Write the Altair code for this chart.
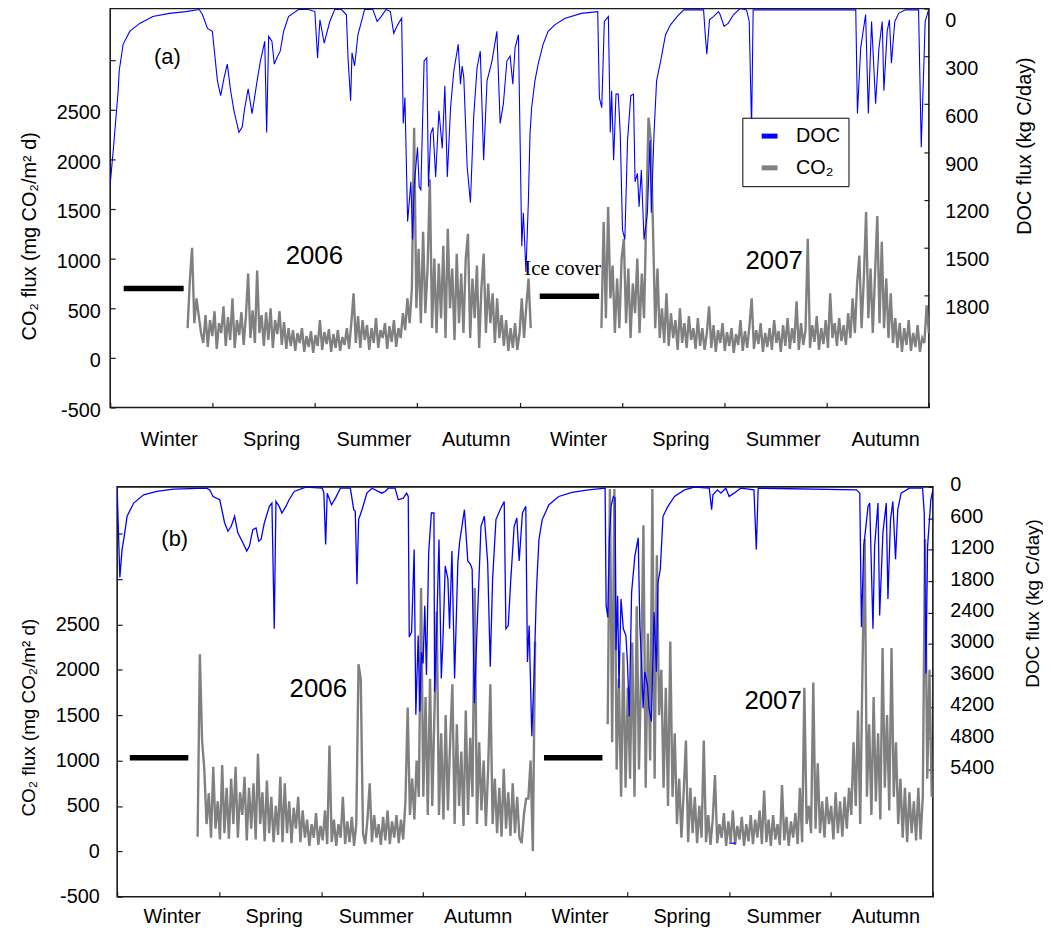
import altair as alt
import pandas as pd

FONT = "Liberation Sans"
SERIF = "Liberation Serif"

SEASONS = ["Winter", "Spring", "Summer", "Autumn", "Winter", "Spring", "Summer", "Autumn"]
SEASON_TICKS = [0, 91.25, 182.5, 273.75, 365, 456.25, 547.5, 638.75, 730]
SERIES = ["DOC", "CO₂"]
SERIES_COLORS = ["#0000ff", "#808080"]
CO2_STEP = 2  # days between CO2 readings

# ---------------- panel (a) ----------------
A_CO2_1_START = 69
A_CO2_1 = [300, 780, 1110, 350, 600, 420, 250,
           150, 430, 110, 380, 220, 470, 90, 350, 250, 520, 120, 410, 180, 600, 100, 380, 230, 460, 130, 420, 850,
           200, 480, 150, 880, 250, 430,
           120, 460, 180, 500, 100, 380, 240, 470, 130, 360, 90, 300,
           120, 280, 70, 250, 150, 300, 60, 220, 110, 270, 50, 230, 120, 380, 80, 260, 140, 290, 60, 240, 100, 280,
           70, 210, 130, 300, 90, 350,
           650, 150, 420, 100, 380, 180, 330, 80, 300, 150, 400, 100, 280, 200, 350, 90, 320, 160, 380, 110, 300, 200,
           450, 280, 600, 350, 700,
           2320,
           500, 1100, 350, 1270, 450, 900, 1800, 300, 1000,
           250, 950, 400, 1130, 200, 1300, 500, 900, 180, 1050, 350, 850, 250, 1000,
           1250, 200, 800, 400, 930, 100, 700, 1050, 250, 750, 350, 650, 150, 600, 200,
           430, 120, 380, 70, 300, 100, 350, 80, 250,
           600, 200, 520, 800, 300]
A_CO2_2_START = 438
A_CO2_2 = [300, 1370, 400, 1520, 600, 930, 250,
           800, 300, 1000, 1200, 350, 900, 200, 750, 450, 1000, 250, 850, 400, 1430, 2420, 2200, 1300, 300, 900, 200,
           500, 150, 650, 120, 450, 200, 380, 80, 500, 150, 350, 100, 420, 180, 300, 90, 400, 120,
           300, 80, 250, 520, 100, 330, 60, 280, 150, 350, 70, 260, 120, 300, 50, 240, 130, 380, 70, 270,
           100, 320, 600, 90, 280, 140, 350, 60, 250, 110, 300, 80, 380, 150, 270, 60, 330, 120, 400, 90,
           300, 150, 570, 80, 350, 130, 280, 1200, 100, 330, 160, 420, 80, 300, 140, 380, 100, 650, 200, 350,
           120, 400, 170, 330, 130,
           450, 200, 600, 250, 750, 1030, 300, 800, 1470, 400, 900, 250, 850, 1430, 350, 1170, 300, 800, 200, 650, 150,
           400, 100, 350, 60, 300, 130, 380, 70, 250, 110, 330, 60, 200, 150, 530, 250]
A_DOC = [(0, 1100), (2.7, 888), (7.1, 515), (8, 391), (11.5, 224), (17.4, 143), (26.3, 93), (38, 50), (52.8, 30),
         (67.5, 19), (79.4, 6), (82.3, 39), (86.7, 124), (91.1, 143), (95.6, 453), (98.5, 546), (101.5, 435),
         (104.4, 348), (107.4, 515), (110.3, 640), (114.8, 776), (117.7, 743), (120, 621), (123, 503), (126.5, 658),
         (131, 453), (133.9, 329), (137.8, 205), (139.5, 776), (141.3, 174), (144.2, 205), (146.3, 348), (148.6, 308),
         (151.6, 267), (154.6, 143), (159, 50), (167.8, 6), (176.7, 6), (182.5, 19), (184.9, 310), (187, 70),
         (190.8, 217), (195.8, 81), (200.2, 6), (206.2, 6), (210.6, 39), (212.1, 317), (214.4, 578), (215.6, 277),
         (217.9, 360), (220.9, 164), (226.8, 6), (234.2, 6), (238, 81), (241.6, 50), (246, 6), (249.8, 19),
         (252.8, 155), (256.3, 102), (259.9, 60), (261.3, 720), (262.8, 557), (265.2, 1335), (268.1, 1086),
         (269.6, 1447), (271, 1117), (274, 869), (275.5, 1117), (277, 1136), (279.9, 329), (282.3, 308),
         (283.8, 1117), (285.8, 785), (287.8, 745), (290.2, 1055), (293.1, 640), (296.1, 876), (298.4, 484),
         (300.6, 1055), (303.5, 620), (306.4, 391), (310.3, 224), (312.3, 474), (313.8, 360), (315.3, 433),
         (318.3, 993), (321.2, 1217), (324.1, 680), (327.1, 371), (330, 267), (333, 950), (336, 453), (340.4, 329),
         (344.8, 143), (347.7, 720), (350.6, 596), (353.7, 329), (356.6, 298), (359, 474), (361, 246), (364, 164),
         (367, 1490), (368.4, 1280), (370.7, 1650), (372.9, 1200), (374.3, 790), (375.8, 620), (378.7, 453),
         (381.6, 348), (386, 224), (390.5, 143), (396.4, 102), (405.2, 62), (420, 30), (434.7, 19), (436.2, 559),
         (438.3, 621), (440.6, 81), (444.2, 50), (445.9, 776), (447.1, 515), (448.9, 950), (451, 536), (453, 536),
         (454.8, 785), (456.8, 1385), (458.9, 1447), (461.3, 826), (464.2, 546), (466.6, 536), (468, 1086),
         (470.1, 1033), (471.6, 1242), (473.6, 1012), (476, 1447), (479, 1280), (481.3, 826), (482.5, 1280),
         (484.9, 785), (487.2, 453), (490.8, 329), (495.2, 164), (499.6, 102), (505.5, 50), (511.4, 8), (529.1, 8),
         (530.6, 164), (532, 286), (534.4, 70), (537.9, 50), (542.4, 19), (543.9, 39), (547.4, 112), (551.2, 91),
         (555.7, 39), (561.6, 0), (567.4, 8), (569.8, 81), (571.9, 752), (573.3, 8), (664.8, 8), (666.3, 658),
         (669.2, 246), (673.6, 37), (676, 658), (678.9, 81), (682.5, 596), (685.5, 246), (688.4, 81), (689.9, 515),
         (692.8, 143), (694.8, 70), (696.6, 342), (699.6, 81), (703.1, 30), (709, 8), (720.8, 8), (723.2, 869),
         (726.7, 81), (729.7, 8)]
A_ICE = [(12, 65.5, 700), (383, 436, 620)]
A_YEARS = [("2006", 182, 1030), ("2007", 592, 980)]
A_TAG = [("(a)", 51, 3030)]
A_ICE_TEXT = [("Ice cover", 403.5, 900)]

# ---------------- panel (b) ----------------
B_CO2_1_START = 72
B_CO2_1 = [160, 2170, 1220, 900, 300, 640, 150, 930, 250, 550,
           130, 950, 200, 700, 140, 800, 300, 930, 150, 650, 400, 820, 120, 700, 250, 750, 130, 1075, 300, 650,
           110, 780, 200, 600,
           100, 500, 180, 820, 100, 750, 200, 550, 90, 480, 250, 600, 100, 450, 150,
           350, 60, 300, 150, 420, 70, 280, 120, 450, 80, 1166, 100, 350, 60, 300, 150, 600, 80, 330, 100, 380, 60,
           300, 2060, 1900, 200,
           80, 350, 750, 100, 400, 150, 300, 70, 380, 120, 450, 80, 330, 150, 400, 90, 350, 130,
           550, 1585, 400, 800, 350, 1000, 600,
           2900, 600, 1700, 400, 1900, 500, 1550, 2640,
           400, 1300, 350, 1500, 450, 1200, 1840, 300, 1400, 500, 1100, 280, 1550, 400, 1250, 600, 2900,
           300, 1200, 450, 1000, 280, 900, 1840,
           300, 800, 200, 700, 160, 910, 250, 650, 170, 750, 200, 600, 150,
           91, 400, 580, 580, 1000, 0, 2310]
B_CO2_2_START = 439
B_CO2_2 = [1400, 3990, 1200, 3990, 900, 1900, 600, 2190, 700, 1800,
           800, 2300, 600, 2700, 900, 2000, 3590, 700, 2400, 1000, 3990, 800, 3260, 1500, 2000,
           700, 1800, 500, 2310, 600, 1300,
           300, 800, 150, 650, 1220, 100, 700, 200, 600, 90, 500, 150,
           1220, 100, 400, 70, 350, 840, 90, 300, 150, 420, 60, 330, 100, 450, 70, 280, 130, 380, 60, 300, 110,
           400, 80, 350, 150, 450,
           80, 670, 100, 350, 60, 400, 130, 300, 70, 730, 120, 380, 60, 330, 150, 420, 80, 700, 100,
           1800, 300, 500, 200, 1860,
           250, 970, 200, 550, 150, 600, 300, 500, 130, 650, 200, 550, 160, 600, 250, 700,
           400, 1200, 500, 1550, 300, 2000, 3440, 600, 1400, 400, 1700, 550, 1300, 350, 2240, 700, 1500, 450, 2240,
           600, 1200, 300,
           800, 150, 700, 100, 650, 200, 550, 120, 700, 130, 600,
           3440, 800, 2000, 600]
B_DOC = [(0, 25), (2.4, 1731), (4.4, 1194), (5.9, 1004), (8.9, 562), (14.8, 309), (23.7, 152), (35.5, 88),
         (50.3, 44), (80, 25), (82.9, 57), (85.8, 183), (91.8, 246), (96.2, 689), (99.2, 847), (102.1, 752),
         (105.1, 562), (108, 878), (112.5, 1067), (116, 1225), (118.4, 1131), (121.4, 815), (124.3, 783),
         (126.7, 1036), (128.8, 1004), (131.7, 689), (136.2, 373), (138.5, 309), (140.6, 2710), (142.1, 278),
         (145, 373), (147.4, 499), (151, 373), (153.9, 246), (158.4, 88), (168.8, 6), (183.6, 25), (185, 120),
         (186.6, 1099), (188, 120), (191.8, 341), (195.4, 215), (199.8, 25), (208.7, 25), (211.7, 436), (213.1, 467),
         (214.6, 1857), (216.1, 625), (219.1, 436), (223.5, 120), (228, 25), (236.8, 120), (239.8, 88), (242.8, 25),
         (248.7, 25), (251.6, 246), (256.1, 215), (259, 120), (260.5, 183), (261.4, 2868), (263.5, 2773),
         (265.8, 1194), (267.3, 4352), (269.4, 2836), (270.8, 4289), (272.3, 3153), (273.8, 3373), (275.3, 2268),
         (276.8, 3594), (278.8, 1257), (281.2, 499), (283.5, 499), (284.1, 3910), (285.6, 3026), (288, 1004),
         (290.1, 3658), (291.6, 2899), (293.6, 1510), (296, 1762), (297.5, 2710), (299.6, 1225), (302, 3658),
         (304.9, 1446), (306.4, 1067), (310.8, 436), (313.8, 1415), (316.2, 1478), (317.7, 1573), (319.7, 4131),
         (322.1, 2710), (325.6, 752), (328.6, 562), (331.6, 1446), (333.9, 3436), (336, 1762), (339, 625),
         (343.4, 404), (346.4, 278), (347.9, 2710), (350, 2647), (352.3, 1762), (355.3, 752), (357.7, 594),
         (359.8, 1415), (362.7, 499), (365.7, 373), (367.2, 3342), (368.7, 2647), (371.1, 4763), (373, 3658),
         (375.1, 2078), (376, 1636), (377.5, 1004), (380.4, 625), (386.4, 341), (395.2, 183), (407.1, 107),
         (421.9, 57), (436.7, 25), (437.6, 2268), (439.1, 2489), (440.5, 1004), (442, 373), (444.1, 183),
         (445.6, 215), (446.4, 3121), (447.9, 2078), (449.1, 3847), (450.9, 2141), (453, 2710), (455.3, 2836),
         (456.8, 3405), (458.3, 4384), (460.4, 2015), (463.3, 1320), (466.3, 973), (467.8, 2647), (469.2, 3310),
         (470.7, 4226), (472.2, 3531), (474.6, 3784), (476, 4226), (478.1, 4479), (480.5, 2394), (482.6, 3531),
         (484, 1826), (486.1, 1573), (488.5, 562), (492.9, 373), (498.8, 183), (507.7, 57), (516.6, 6), (529.9, 25),
         (532, 436), (533.2, 152), (537.3, 57), (540.3, 120), (544.7, 25), (547.7, 183), (552.1, 120), (558, 25),
         (569.9, 57), (572, 1194), (573.7, 25), (661.6, 57), (664.6, 120), (666.1, 2678), (668.2, 1131), (672, 373),
         (673.5, 309), (676.4, 2710), (677.9, 1131), (680.9, 309), (682.4, 2457), (685.3, 878), (688.3, 309),
         (689.8, 2141), (692.1, 625), (694.2, 278), (696.6, 1383), (698.6, 436), (701.6, 120), (709, 25),
         (720.8, 25), (722.3, 499), (723.8, 3563), (725.3, 1131), (728.2, 246), (730, 57)]
B_DOC_BLIP = [(547.7, 6800), (553.6, 6800)]
B_ICE = [(11.3, 63.7, 1030), (382, 434.3, 1030)]
B_YEARS = [("2006", 180, 1782), ("2007", 587, 1650)]
B_TAG = [("(b)", 51.5, 3443)]


def co2_frame(parts):
    frames = []
    for k, (start, vals) in enumerate(parts):
        frames.append(pd.DataFrame({"day": [start + CO2_STEP * i for i in range(len(vals))],
                                    "value": vals, "series": "CO₂", "seg": f"c{k}"}))
    return pd.concat(frames, ignore_index=True)


def doc_frame(parts):
    frames = []
    for k, pts in enumerate(parts):
        frames.append(pd.DataFrame({"day": [p[0] for p in pts], "value": [p[1] for p in pts],
                                    "series": "DOC", "seg": f"d{k}"}))
    return pd.concat(frames, ignore_index=True)


def text_frame(items):
    return pd.DataFrame({"label": [t[0] for t in items], "day": [t[1] for t in items],
                         "value": [t[2] for t in items]})


LABEL_EXPR = "[" + ",".join("'%s'" % s for s in SEASONS + [""]) + "][round(datum.value / 91.25)]"


def make_panel(cfg):
    x_axis = alt.Axis(values=SEASON_TICKS, labelExpr=LABEL_EXPR, labelOffset=cfg["xlab_off"],
                      labelPadding=cfg["xlab_pad"], offset=-5, tickSize=5, labelOverlap=False,
                      labelBound=False, labelFlush=False, labelAngle=0, labelFontSize=20, title=None)
    X = alt.X("day:Q", scale=alt.Scale(domain=[0, 730], nice=False, zero=False), axis=x_axis)
    left_axis = alt.Axis(values=cfg["co2_ticks"],
                         labelExpr="datum.value > %d ? '' : '' + datum.value" % cfg["co2_label_max"],
                         offset=-5, tickSize=5, labelPadding=cfg["ylab_pad"], labelOffset=cfg["ylab_off"],
                         labelFontSize=20, title="CO₂ flux (mg CO₂/m² d)", titleFontSize=cfg["title_size"],
                         titleAngle=270, titleBaseline="middle", titleAlign="center",
                         titleX=cfg["ltitle_x"], titleY=cfg["ltitle_y"])
    Y = alt.Y("value:Q", scale=alt.Scale(domain=cfg["co2_domain"], nice=False, zero=False), axis=left_axis)
    color = alt.Color("series:N", scale=alt.Scale(domain=SERIES, range=SERIES_COLORS), legend=cfg["legend"])

    co2_line = alt.Chart(cfg["co2"]).mark_line(strokeWidth=2.4, clip=True).encode(
        x=X, y=Y, color=color, detail="seg:N")
    ice = alt.Chart(cfg["ice"]).mark_rule(strokeWidth=5.5, color="black").encode(
        x=X, x2=alt.X2("day_end:Q"), y=Y)
    layers = [
        alt.Chart(text_frame(cfg["tag"])).mark_text(font=FONT, fontSize=22, color="black").encode(
            x=X, y=Y, text="label:N"),
        alt.Chart(text_frame(cfg["years"])).mark_text(font=FONT, fontSize=26, color="black").encode(
            x=X, y=Y, text="label:N"),
    ]
    if cfg.get("ice_text"):
        layers.append(alt.Chart(text_frame(cfg["ice_text"])).mark_text(font=SERIF, fontSize=21, color="black").encode(
            x=X, y=Y, text="label:N"))
    layers += [ice, co2_line]
    left = alt.layer(*layers)

    right_axis = alt.Axis(values=cfg["doc_ticks"], format="d", orient="right", offset=-5, tickSize=5,
                          labelPadding=cfg["rlab_pad"], labelOffset=cfg["rlab_off"], labelFontSize=20,
                          title="DOC flux (kg C/day)", titleFontSize=cfg["title_size"], titleAngle=270,
                          titleBaseline="middle", titleAlign="center",
                          titleX=cfg["rtitle_x"], titleY=cfg["rtitle_y"])
    doc_line = alt.Chart(cfg["doc"]).mark_line(strokeWidth=cfg["doc_width"], clip=True).encode(
        x=X,
        y=alt.Y("value:Q", scale=alt.Scale(domain=cfg["doc_domain"], reverse=True, nice=False, zero=False),
                axis=right_axis),
        color=color, detail="seg:N")
    panel = alt.layer(left, doc_line).resolve_scale(y="independent").properties(width=cfg["w"], height=cfg["h"])
    # an invisible 1px anchor on the left lets each panel keep its own left margin
    anchor = alt.Chart(pd.DataFrame({"v": [0]})).mark_point(opacity=0).properties(
        width=1, height=1, view=alt.ViewBackground(stroke="transparent"))
    return alt.hconcat(anchor, panel, spacing=0).resolve_scale(color="independent").resolve_legend(
        color="independent")


legend_a = alt.Legend(title=None, orient="none", legendX=637, legendY=110, direction="vertical",
                      padding=8, strokeColor="black", fillColor="white", symbolType="stroke",
                      symbolStrokeWidth=5, symbolSize=256, labelFont=FONT, labelFontSize=20,
                      labelColor="black", labelOffset=16, symbolOffset=9, rowPadding=11,
                      labelExpr="datum.label + '\u00a0\u00a0'")

panel_a = make_panel(dict(
    co2=co2_frame([(A_CO2_1_START, A_CO2_1), (A_CO2_2_START, A_CO2_2)]),
    doc=doc_frame([A_DOC]),
    ice=pd.DataFrame({"day": [t[0] for t in A_ICE], "day_end": [t[1] for t in A_ICE], "value": [t[2] for t in A_ICE]}),
    tag=A_TAG, years=A_YEARS, ice_text=A_ICE_TEXT,
    co2_domain=[-500, 3520], co2_ticks=[-500, 0, 500, 1000, 1500, 2000, 2500, 3000], co2_label_max=2500,
    doc_domain=[0, 2500], doc_ticks=[0, 300, 600, 900, 1200, 1500, 1800],
    xlab_off=59, xlab_pad=22, ylab_pad=10, ylab_off=3, rlab_pad=16, rlab_off=12,
    ltitle_x=-86, ltitle_y=229, rtitle_x=101, rtitle_y=138, title_size=20,
    doc_width=1.1, legend=legend_a, w=825, h=402))

panel_b = make_panel(dict(
    co2=co2_frame([(B_CO2_1_START, B_CO2_1), (B_CO2_2_START, B_CO2_2)]),
    doc=doc_frame([B_DOC, B_DOC_BLIP]),
    ice=pd.DataFrame({"day": [t[0] for t in B_ICE], "day_end": [t[1] for t in B_ICE], "value": [t[2] for t in B_ICE]}),
    tag=B_TAG, years=B_YEARS, ice_text=None,
    co2_domain=[-500, 4014], co2_ticks=[-500, 0, 500, 1000, 1500, 2000, 2500, 3000, 3500], co2_label_max=2500,
    doc_domain=[0, 7825], doc_ticks=[0, 600, 1200, 1800, 2400, 3000, 3600, 4200, 4800, 5400],
    xlab_off=55, xlab_pad=10, ylab_pad=18, ylab_off=0, rlab_pad=17, rlab_off=-2,
    ltitle_x=-94, ltitle_y=232, rtitle_x=105, rtitle_y=117, title_size=19,
    doc_width=1.3, legend=None, w=822, h=413))

chart = alt.vconcat(panel_a, panel_b, spacing=24).resolve_scale(
    color="independent").resolve_legend(color="independent").properties(
    padding={"left": 4, "top": -6, "right": 0, "bottom": 2}
).configure_view(stroke="#1a1a1a", strokeWidth=1.6).configure_axis(
    labelFont=FONT, titleFont=FONT, labelColor="black", titleColor="black", tickColor="#1a1a1a",
    tickWidth=1.2, domain=False, grid=False, titleFontWeight="normal")

chart.save("out.html", embed_options={"renderer": "svg", "actions": False})
